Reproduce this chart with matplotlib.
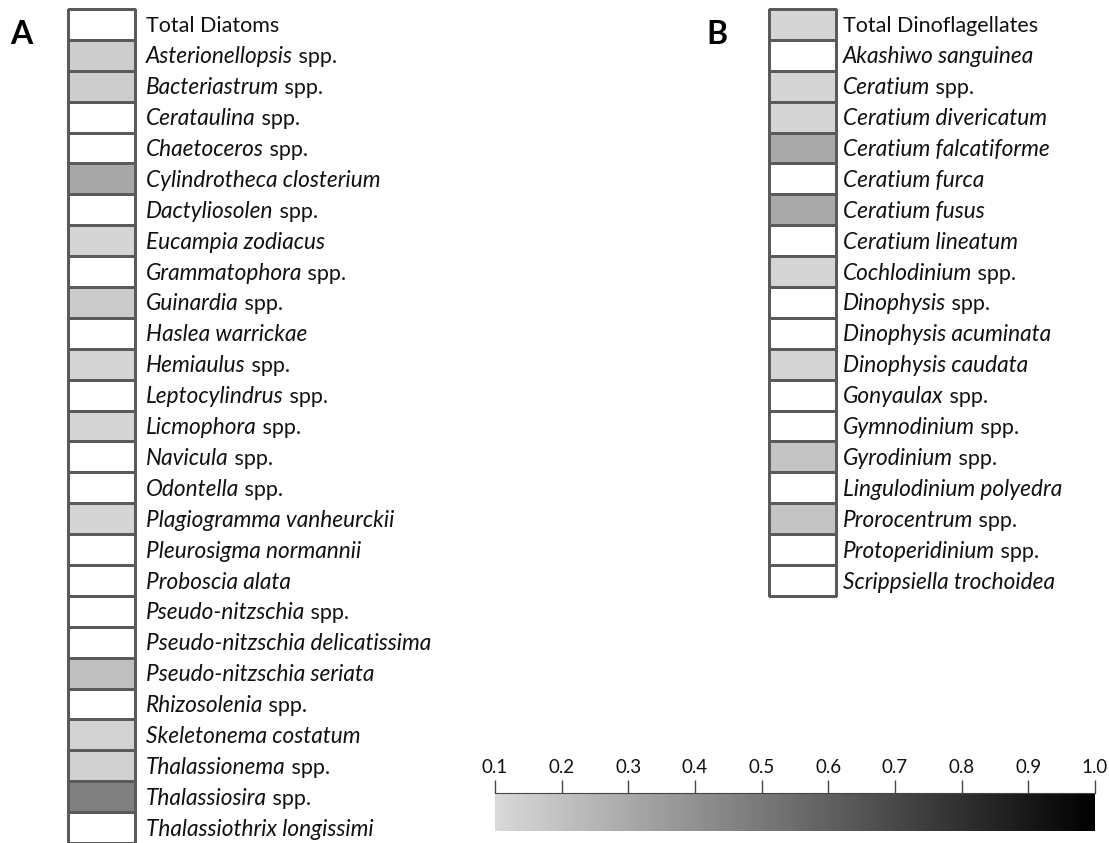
import numpy as np
import matplotlib
matplotlib.use("Agg")
import matplotlib.pyplot as plt
from matplotlib.colors import LinearSegmentedColormap, Normalize
from matplotlib.cm import ScalarMappable

plt.rcParams['font.family'] = ['Lato', 'DejaVu Sans']

# taxa and values (nan = white / below scale)
diatom_taxa = [
    "Total Diatoms", "Asterionellopsis spp.", "Bacteriastrum spp.", "Cerataulina spp.",
    "Chaetoceros spp.", "Cylindrotheca closterium", "Dactyliosolen spp.", "Eucampia zodiacus",
    "Grammatophora spp.", "Guinardia spp.", "Haslea warrickae", "Hemiaulus spp.",
    "Leptocylindrus spp.", "Licmophora spp.", "Navicula spp.", "Odontella spp.",
    "Plagiogramma vanheurckii", "Pleurosigma normannii", "Proboscia alata",
    "Pseudo-nitzschia spp.", "Pseudo-nitzschia delicatissima", "Pseudo-nitzschia seriata",
    "Rhizosolenia spp.", "Skeletonema costatum", "Thalassionema spp.", "Thalassiosira spp.",
    "Thalassiothrix longissimi",
]
diatom_values = [
    np.nan, 0.15, 0.15, np.nan, np.nan, 0.31, np.nan, 0.12, np.nan, 0.16, np.nan, 0.12,
    np.nan, 0.12, np.nan, np.nan, 0.12, np.nan, np.nan, np.nan, np.nan, 0.21,
    np.nan, 0.13, 0.14, 0.47, np.nan,
]

dino_taxa = [
    "Total Dinoflagellates", "Akashiwo sanguinea", "Ceratium spp.", "Ceratium divericatum",
    "Ceratium falcatiforme", "Ceratium furca", "Ceratium fusus", "Ceratium lineatum",
    "Cochlodinium spp.", "Dinophysis spp.", "Dinophysis acuminata", "Dinophysis caudata",
    "Gonyaulax spp.", "Gymnodinium spp.", "Gyrodinium spp.", "Lingulodinium polyedra",
    "Prorocentrum spp.", "Protoperidinium spp.", "Scrippsiella trochoidea",
]
dino_values = [
    0.12, np.nan, 0.12, 0.12, 0.30, np.nan, 0.30, np.nan, 0.12, np.nan, np.nan, 0.12,
    np.nan, np.nan, 0.19, np.nan, 0.19, np.nan, np.nan,
]

cbar_ticks = [0.1, 0.2, 0.3, 0.4, 0.5, 0.6, 0.7, 0.8, 0.9, 1.0]

W, H = 1109, 843
ROW = 30.89
FS = 15.5
FS_IT = 16.3

cmap = LinearSegmentedColormap.from_list("grey_r", ["#d9d9d9", "#000000"])
cmap.set_bad("white")
norm = Normalize(0.1, 1.0)

fig = plt.figure(figsize=(W / 100, H / 100), dpi=100)


def px_axes(x0, y0, x1, y1):
    return fig.add_axes([x0 / W, 1 - y1 / H, (x1 - x0) / W, (y1 - y0) / H])


def draw_label(ax, i, name, xoff):
    y = i + 0.55
    if name.startswith("Total"):
        ax.text(xoff, y, name, transform=ax.get_yaxis_transform(),
                fontsize=FS, va="center", ha="left", color="#111111")
        return
    if name.endswith(" spp."):
        ital, rest = name[:-5], " spp."
    else:
        ital, rest = name, ""
    t = ax.text(xoff, y, ital, transform=ax.get_yaxis_transform(),
                fontsize=FS_IT, va="center", ha="left", style="italic", color="#111111")
    if rest:
        ax.annotate(rest, xy=(1, 0), xycoords=t, fontsize=FS, va="bottom",
                    ha="left", color="#111111")


def heat_column(x0, x1, taxa, values, xgap):
    n = len(taxa)
    ax = px_axes(x0, 9, x1, 9 + n * ROW)
    data = np.ma.masked_invalid(np.array(values, dtype=float)).reshape(-1, 1)
    mesh = ax.pcolormesh(np.arange(2), np.arange(n + 1), data, cmap=cmap, norm=norm,
                         edgecolors="#5a5a5a", linewidth=0.8)
    mesh.set_clip_on(False)
    ax.set_xlim(0, 1)
    ax.set_ylim(n, 0)
    ax.axis("off")
    for i, name in enumerate(taxa):
        draw_label(ax, i, name, 1 + xgap / (x1 - x0))
    return ax


axA = heat_column(68, 135, diatom_taxa, diatom_values, 11)
axB = heat_column(769, 836, dino_taxa, dino_values, 7)

fig.text(10 / W, 1 - 34 / H, "A", fontsize=23, fontweight="bold", va="center", ha="left")
fig.text(706 / W, 1 - 34 / H, "B", fontsize=23, fontweight="bold", va="center", ha="left")

# colour scale
cax = px_axes(495, 793, 1095, 831)
cb = fig.colorbar(ScalarMappable(norm=norm, cmap=cmap), cax=cax,
                  orientation="horizontal", ticklocation="top")
cb.outline.set_visible(False)
cax.spines["top"].set_visible(True)
cax.spines["top"].set_color("#444444")
cb.set_ticks(cbar_ticks)
cb.set_ticklabels([f"{t:.1f}" for t in cbar_ticks])
cax.tick_params(axis="x", length=9.5, width=1, color="#444444", labelsize=13.5,
                pad=3, labelcolor="#111111")

fig.savefig("out.png", dpi=100)
